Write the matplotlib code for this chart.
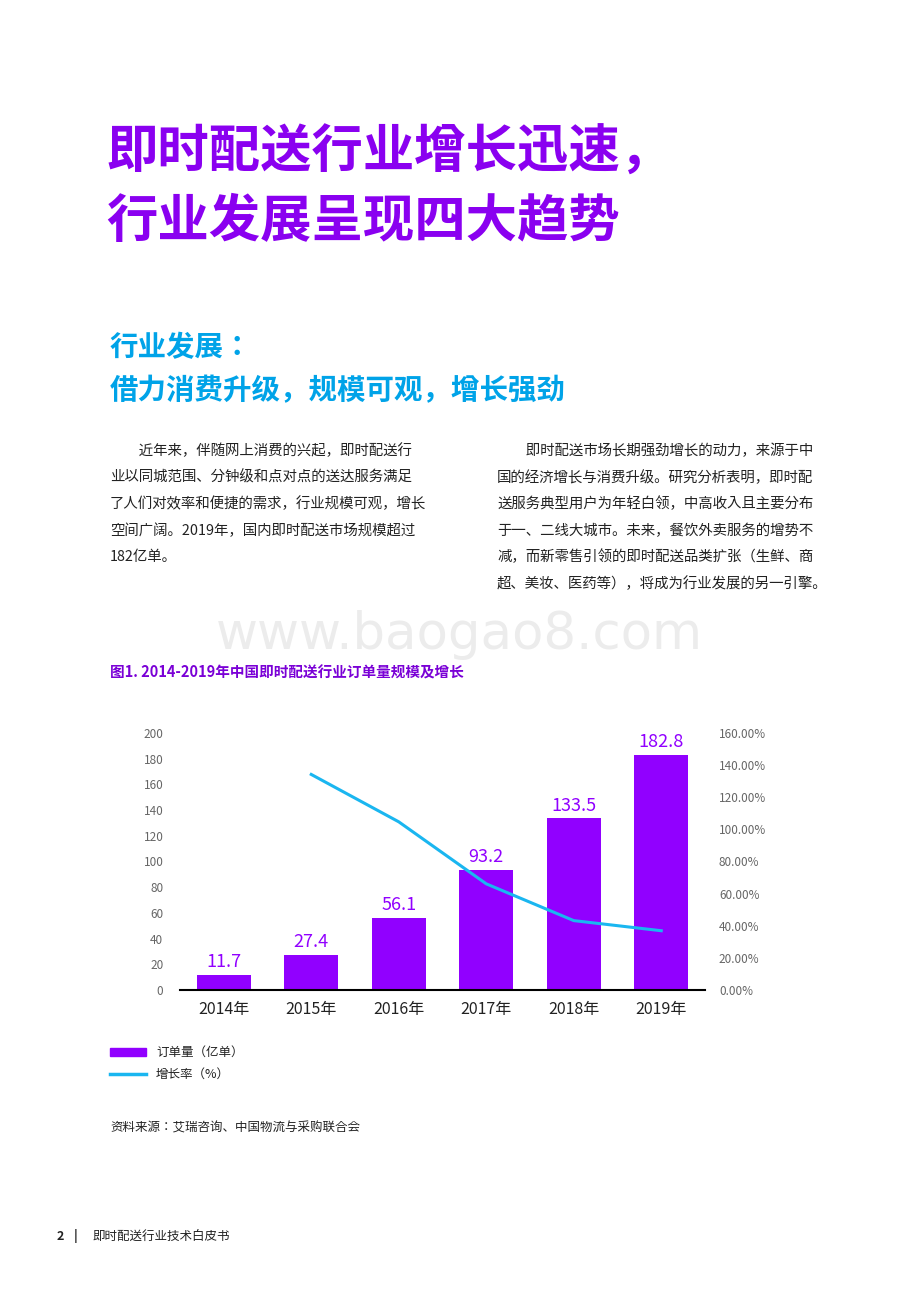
import numpy as np
import matplotlib.pyplot as plt
from matplotlib import font_manager
from matplotlib.patches import Rectangle
from matplotlib.lines import Line2D

years = ['2014年', '2015年', '2016年', '2017年', '2018年', '2019年']
orders = [11.7, 27.4, 56.1, 93.2, 133.5, 182.8]
growth = [np.nan, 134.2, 104.7, 66.1, 43.2, 36.9]
left_ticks = [0, 20, 40, 60, 80, 100, 120, 140, 160, 180, 200]
right_ticks = [0, 20, 40, 60, 80, 100, 120, 140, 160]

PURPLE = '#9100ff'
CYAN = '#1ab6f0'
W, H = 920, 1302

# find a CJK family that's actually registered
names = sorted({f.name for f in font_manager.fontManager.ttflist})
cjk = [n for n in names if 'CJK' in n]
pref = [n for n in cjk if 'SC' in n] or cjk
plt.rcParams['font.family'] = (pref[:1] if pref else []) + ['DejaVu Sans']


def fx(px):
    return px / W


def fy(py):
    return 1 - py / H


def main():
    fig = plt.figure(figsize=(9.2, 13.02), dpi=100)
    fig.patch.set_facecolor('white')

    # page headings
    fig.text(fx(106), fy(152), '即时配送行业增长迅速，', fontsize=37, weight='heavy',
             color='#8a00f0', va='center')
    fig.text(fx(106), fy(222), '行业发展呈现四大趋势', fontsize=37, weight='heavy',
             color='#8a00f0', va='center')
    fig.text(fx(110), fy(348), '行业发展：', fontsize=20.5, weight='bold', color='#00a3e8', va='center')
    fig.text(fx(110), fy(391), '借力消费升级，规模可观，增长强劲', fontsize=20.5, weight='bold',
             color='#00a3e8', va='center')

    left_col = ['　　近年来，伴随网上消费的兴起，即时配送行',
                '业以同城范围、分钟级和点对点的送达服务满足',
                '了人们对效率和便捷的需求，行业规模可观，增长',
                '空间广阔。2019年，国内即时配送市场规模超过',
                '182亿单。']
    right_col = ['　　即时配送市场长期强劲增长的动力，来源于中',
                 '国的经济增长与消费升级。研究分析表明，即时配',
                 '送服务典型用户为年轻白领，中高收入且主要分布',
                 '于一、二线大城市。未来，餐饮外卖服务的增势不',
                 '减，而新零售引领的即时配送品类扩张（生鲜、商',
                 '超、美妆、医药等），将成为行业发展的另一引擎。']
    for i, s in enumerate(left_col):
        fig.text(fx(110), fy(451 + i * 26.5), s, fontsize=10.4, color='#222222', va='center')
    for i, s in enumerate(right_col):
        fig.text(fx(497), fy(451 + i * 26.5), s, fontsize=10.4, color='#222222', va='center')

    fig.text(fx(459), fy(635), 'www.baogao8.com', fontsize=37, color='#ececec', ha='center',
             va='center', family='DejaVu Sans')

    fig.text(fx(110), fy(673), '图1. 2014-2019年中国即时配送行业订单量规模及增长', fontsize=10.5,
             weight='bold', color='#7a00d6', va='center')

    # chart
    ax = fig.add_axes([fx(180), fy(990), fx(705) - fx(180), (990 - 733) / H])
    x = np.arange(len(years))
    ax.bar(x, orders, width=0.62, color=PURPLE)
    for xi, v in zip(x, orders):
        ax.text(xi, v + 3, f'{v}', ha='center', va='bottom', fontsize=13, color=PURPLE)
    ax.set_ylim(0, 200)
    ax.set_xlim(-0.5, len(years) - 0.5)
    ax.set_yticks(left_ticks)
    ax.set_xticks(x)
    ax.set_xticklabels(years, fontsize=11.5, color='#222222')
    ax.tick_params(axis='y', length=0, labelsize=8.5, labelcolor='#666666', pad=12)
    ax.tick_params(axis='x', length=0, pad=8)
    for sp in ['top', 'right', 'left']:
        ax.spines[sp].set_visible(False)
    ax.spines['bottom'].set_linewidth(1.5)

    ax2 = ax.twinx()
    ax2.plot(x, growth, color=CYAN, lw=2.2)
    ax2.set_ylim(0, 160)
    ax2.set_yticks(right_ticks)
    ax2.set_yticklabels([f'{t:.2f}%' for t in right_ticks])
    ax2.tick_params(axis='y', length=0, labelsize=8.5, labelcolor='#666666', pad=10)
    for sp in ax2.spines.values():
        sp.set_visible(False)

    # legend
    fig.patches.append(Rectangle((fx(110), fy(1056)), fx(36), 8 / H, color=PURPLE,
                                 transform=fig.transFigure))
    fig.text(fx(156), fy(1052), '订单量（亿单）', fontsize=9, color='#222222', va='center')
    fig.lines.append(Line2D([fx(110), fx(146)], [fy(1074), fy(1074)], color=CYAN, lw=2.5,
                            transform=fig.transFigure))
    fig.text(fx(156), fy(1074), '增长率（%）', fontsize=9, color='#222222', va='center')

    fig.text(fx(110), fy(1128), '资料来源：艾瑞咨询、中国物流与采购联合会', fontsize=9,
             color='#222222', va='center')
    fig.text(fx(57), fy(1236), '2', fontsize=9, weight='bold', color='#222222', va='center')
    fig.text(fx(74), fy(1236), '|', fontsize=9, weight='bold', color='#222222', va='center')
    fig.text(fx(93), fy(1236), '即时配送行业技术白皮书', fontsize=9, color='#222222', va='center')

    fig.savefig('out.png', dpi=100)


if __name__ == '__main__':
    main()
